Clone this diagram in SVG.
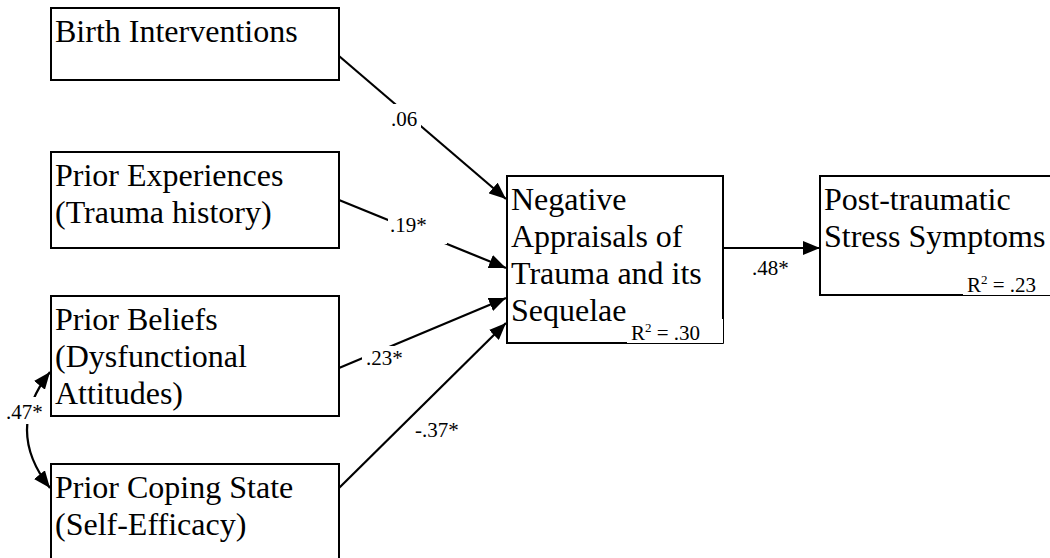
<svg xmlns="http://www.w3.org/2000/svg" width="1050" height="558" viewBox="0 0 1050 558">
<style>
.box{fill:#fff;stroke:#000;stroke-width:2}
.nt{font-size:32px;fill:#000}
.lt{font-size:21px;fill:#000}
.edge{fill:none;stroke:#000;stroke-width:2.2}
.bg{fill:#fff;stroke:none}
.thin{fill:none;stroke:#000;stroke-width:1}
</style>
<defs>
<marker id="ah" markerUnits="userSpaceOnUse" markerWidth="18" markerHeight="14" refX="17" refY="7" orient="auto-start-reverse">
<path d="M0,0 L17,7 L0,14 z" fill="#000"/>
</marker>
</defs>
<rect width="1050" height="558" fill="#fff"/>
<g font-family="Liberation Serif, Times New Roman, DejaVu Serif, serif">
<g id="birth">
<rect class="box" x="51" y="8" width="288" height="72"/>
<text class="nt" x="55" y="42">Birth Interventions</text>
</g>
<g id="experiences">
<rect class="box" x="51" y="152" width="288" height="96"/>
<text class="nt" x="55" y="186">Prior Experiences</text>
<text class="nt" x="55" y="223">(Trauma history)</text>
</g>
<g id="beliefs">
<rect class="box" x="51" y="296" width="288" height="120"/>
<text class="nt" x="55" y="330">Prior Beliefs</text>
<text class="nt" x="55" y="367">(Dysfunctional</text>
<text class="nt" x="55" y="404">Attitudes)</text>
</g>
<g id="coping">
<rect class="box" x="51" y="464" width="288" height="110"/>
<text class="nt" x="55" y="498">Prior Coping State</text>
<text class="nt" x="55" y="535">(Self-Efficacy)</text>
</g>
<g id="appraisals">
<rect class="box" x="507" y="176" width="216" height="167"/>
<text class="nt" x="511" y="210">Negative</text>
<text class="nt" x="511" y="247">Appraisals of</text>
<text class="nt" x="511" y="284">Trauma and its</text>
<text class="nt" x="511" y="321">Sequelae</text>
<rect class="bg" x="627" y="319" width="98" height="26"/>
<polyline class="thin" points="723.5,319 723.5,343.5 627,343.5"/>
<text class="lt" x="631" y="340">R<tspan dy="-8" font-size="13">2</tspan><tspan dy="8"> = .30</tspan></text>
</g>
<g id="ptss">
<rect class="box" x="820" y="176" width="260" height="119"/>
<text class="nt" x="824" y="210">Post-traumatic</text>
<text class="nt" x="824" y="247">Stress Symptoms</text>
<rect class="bg" x="963" y="270" width="90" height="27"/>
<line class="thin" x1="963" y1="295.5" x2="1050" y2="295.5"/>
<text class="lt" x="967" y="292">R<tspan dy="-8" font-size="13">2</tspan><tspan dy="8"> = .23</tspan></text>
</g>

<g id="connectors">
<line class="edge" x1="339" y1="56" x2="506" y2="199" marker-end="url(#ah)"/>
<line class="edge" x1="339" y1="200" x2="506" y2="268" marker-end="url(#ah)"/>
<line class="edge" x1="339" y1="368" x2="506" y2="298" marker-end="url(#ah)"/>
<line class="edge" x1="339" y1="488" x2="506" y2="323" marker-end="url(#ah)"/>
<line class="edge" x1="723" y1="248" x2="820" y2="248" marker-end="url(#ah)"/>
<path class="edge" d="M50,372 Q4,430 50,488" marker-start="url(#ah)" marker-end="url(#ah)"/>

<rect class="bg" x="390" y="104" width="31" height="26"/>
<text class="lt" x="391" y="126">.06</text>
<rect class="bg" x="388" y="212" width="59" height="32"/>
<text class="lt" x="390" y="232">.19*</text>
<rect class="bg" x="362" y="346" width="34" height="24"/>
<text class="lt" x="366" y="365">.23*</text>
<text class="lt" x="415" y="437">-.37*</text>
<text class="lt" x="752" y="275">.48*</text>
<rect class="bg" x="5" y="397" width="39" height="27"/>
<text class="lt" x="6" y="419">.47*</text>
</g>
</g>
</svg>
